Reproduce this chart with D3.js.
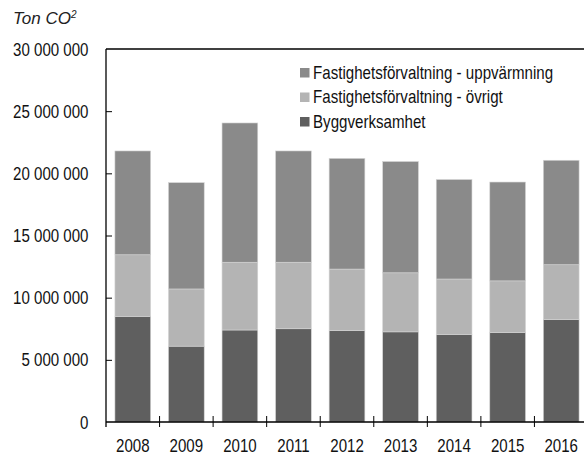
<!DOCTYPE html>
<html>
<head>
<meta charset="utf-8">
<script src="https://cdn.jsdelivr.net/npm/d3@7/dist/d3.min.js"></script>
<style>
  html, body { margin: 0; padding: 0; background: #fff; }
  svg { display: block; }
  .narrow { font-family: "Liberation Sans", Arial, sans-serif; }
</style>
</head>
<body>
<svg id="chart" width="584" height="455"></svg>
<script>
const years = ["2008", "2009", "2010", "2011", "2012", "2013", "2014", "2015", "2016"];
const byggverksamhet = [8500000, 6100000, 7400000, 7500000, 7350000, 7250000, 7050000, 7200000, 8250000];
const ovrigt = [4950000, 4600000, 5450000, 5350000, 4950000, 4750000, 4450000, 4150000, 4400000];
const uppvarmning = [8350000, 8550000, 11200000, 8950000, 8900000, 8950000, 8000000, 7950000, 8400000];
const seriesNames = ["Byggverksamhet", "Fastighetsförvaltning - övrigt", "Fastighetsförvaltning - uppvärmning"];
const seriesColors = ["#5f5f5f", "#b4b4b4", "#8a8a8a"];
const yTicks = [0, 5000000, 10000000, 15000000, 20000000, 25000000, 30000000];
const legendOrder = ["Fastighetsförvaltning - uppvärmning", "Fastighetsförvaltning - övrigt", "Byggverksamhet"];

const svg = d3.select("#chart");
const mLeft = 106, mTop = 49, mBottom = 422, mRight = 588;
const squeeze = 0.815;

const rows = years.map((yr, i) => ({
  year: yr,
  "Byggverksamhet": byggverksamhet[i],
  "Fastighetsförvaltning - övrigt": ovrigt[i],
  "Fastighetsförvaltning - uppvärmning": uppvarmning[i]
}));
const stacked = d3.stack().keys(seriesNames)(rows);

const x = d3.scaleBand().domain(years).range([mLeft, mRight]).paddingInner(0.333).paddingOuter(0.1667);
const y = d3.scaleLinear().domain([0, 30000000]).range([mBottom, mTop]);
const color = d3.scaleOrdinal().domain(seriesNames).range(seriesColors);

const fmt = v => d3.format(",")(v).replace(/,/g, " ");

// bars
svg.append("g").selectAll("g").data(stacked).join("g")
  .attr("fill", d => color(d.key))
  .selectAll("rect").data(d => d).join("rect")
  .attr("x", d => x(d.data.year))
  .attr("y", d => y(d[1]))
  .attr("width", x.bandwidth())
  .attr("height", d => y(d[0]) - y(d[1]))
  .attr("stroke", "#d4d4d4")
  .attr("stroke-width", 0.6);

// top frame line
svg.append("line").attr("x1", mLeft).attr("x2", 584).attr("y1", y(30000000)).attr("y2", y(30000000))
  .attr("stroke", "#000").attr("stroke-width", 1.3);

// y axis
const yAxis = svg.append("g").attr("transform", `translate(${mLeft},0)`)
  .call(d3.axisRight(y).tickValues(yTicks.filter(v => v > 0 && v < 30000000)).tickSize(6).tickFormat(""));
yAxis.select(".domain").remove();
yAxis.selectAll("line").attr("stroke", "#000").attr("stroke-width", 1);
svg.append("line").attr("x1", mLeft).attr("x2", mLeft).attr("y1", mTop).attr("y2", mBottom + 5)
  .attr("stroke", "#000").attr("stroke-width", 1.3);

svg.append("g").selectAll("text").data(yTicks).join("text")
  .attr("class", "narrow")
  .attr("transform", d => `translate(88.5,${y(d)}) scale(${squeeze},1)`)
  .attr("dy", "0.36em")
  .attr("text-anchor", "end")
  .attr("font-size", 18.5)
  .attr("fill", "#111")
  .text(d => fmt(d));

// x axis
svg.append("line").attr("x1", mLeft).attr("x2", 584).attr("y1", mBottom).attr("y2", mBottom)
  .attr("stroke", "#000").attr("stroke-width", 1.3);
const boundaries = years.slice(1).map(yr => x(yr) - x.step() * x.paddingInner() / 2);
svg.append("g").selectAll("line").data(boundaries).join("line")
  .attr("x1", d => d).attr("x2", d => d)
  .attr("y1", mBottom - 6).attr("y2", mBottom + 5)
  .attr("stroke", "#000").attr("stroke-width", 1);

svg.append("g").selectAll("text").data(years).join("text")
  .attr("class", "narrow")
  .attr("transform", d => `translate(${x(d) + x.bandwidth() / 2},451.5) scale(${squeeze},1)`)
  .attr("text-anchor", "middle")
  .attr("font-size", 18.5)
  .attr("fill", "#111")
  .text(d => d);

// y title
const title = svg.append("text")
  .attr("x", 13).attr("y", 24)
  .attr("font-family", "'Liberation Sans', Arial, sans-serif")
  .attr("font-style", "italic")
  .attr("font-size", 17)
  .attr("fill", "#222");
title.append("tspan").text("Ton CO");
title.append("tspan").attr("font-size", 10).attr("dy", -6).text("2");

// legend
const legend = svg.append("g").selectAll("g").data(legendOrder).join("g")
  .attr("transform", (d, i) => `translate(300,${68 + i * 24.5})`);
legend.append("rect").attr("width", 9.5).attr("height", 9.5).attr("fill", d => color(d));
legend.append("text")
  .attr("class", "narrow")
  .attr("transform", `translate(13,10.5) scale(0.84,1)`)
  .attr("font-size", 18)
  .attr("fill", "#111")
  .text(d => d);
</script>
</body>
</html>
